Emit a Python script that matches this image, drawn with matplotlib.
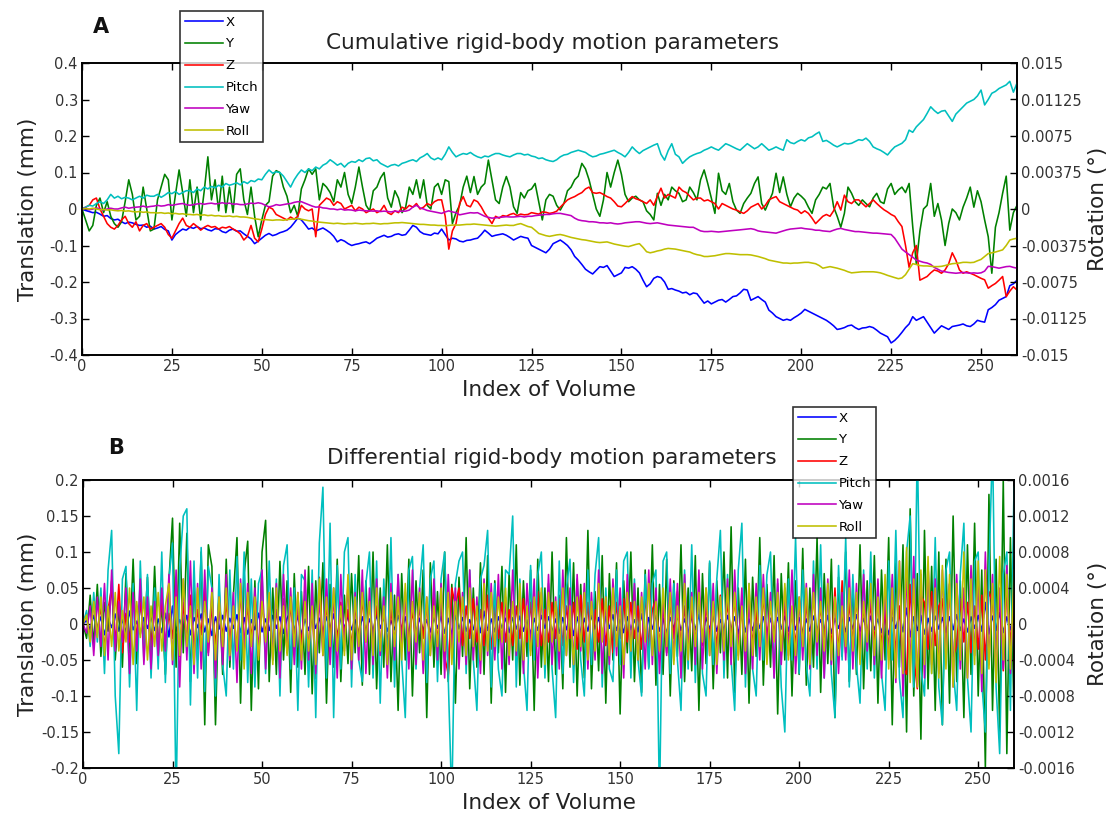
import numpy as np
import matplotlib.pyplot as plt

plt.rcParams['font.family'] = ['DejaVu Sans']

# ---- cumulative motion (translations in 0.001 mm, rotations in 1e-5 deg) ----
cum_x = [0, -4, -7, -10, -9, -14, -20, -18, -26, -30, -28, -35, -40, -36, -38, -42, -45, -44, -50, -47,
         -55, -52, -48, -56, -60, -85, -70, -62, -55, -58, -50, -53, -48, -54, -52, -57, -60, -54, -55, -62,
         -65, -58, -55, -61, -60, -68, -75, -82, -95, -88, -80, -72, -67, -73, -70, -65, -62, -58, -50, -38,
         -25, -30, -42, -55, -52, -60, -56, -52, -58, -65, -75, -90, -84, -88, -95, -100, -97, -95, -92, -90,
         -95, -88, -80, -76, -72, -77, -75, -70, -68, -72, -70, -58, -45, -50, -62, -68, -70, -72, -66, -68,
         -55, -70, -85, -80, -82, -88, -90, -86, -85, -82, -80, -70, -58, -66, -75, -72, -70, -68, -72, -78,
         -85, -80, -75, -78, -80, -100, -105, -110, -115, -120, -110, -95, -90, -85, -92, -100, -112, -130, -140, -152,
         -165, -172, -178, -168, -158, -160, -155, -170, -185, -180, -175, -160, -162, -158, -165, -175, -195, -213, -205, -190,
         -185, -188, -200, -220, -218, -222, -225, -230, -228, -235, -230, -232, -245, -258, -252, -260, -255, -250, -248, -255,
         -248, -240, -238, -230, -220, -222, -250, -245, -240, -248, -255, -277, -285, -295, -300, -305, -302, -305, -298, -292,
         -285, -275, -280, -285, -290, -295, -300, -305, -312, -320, -330, -328, -325, -320, -318, -325, -330, -326, -325, -322,
         -325, -332, -340, -345, -350, -367, -360, -350, -338, -325, -315, -295, -305, -300, -295, -310, -325, -340, -330, -320,
         -325, -330, -322, -320, -318, -315, -320, -322, -315, -305, -308, -310, -276, -270, -262, -250, -245, -240, -210, -205,
         -195]
cum_y = [0, -30, -60, -45, 10, 30, -10, 20, -20, -40, -50, -35, 20, 80, 40, -30, -20, 60, 0, -60,
         -55, 25, 60, 95, 80, -30, 40, 107, 45, -20, 80, -10, 60, -30, 50, 143, 25, 80, -5, 90,
         -10, 60, -10, 95, 110, 25, -15, 60, -20, -76, -30, 10, 20, 90, 105, 100, 60, 35, -10, 10,
         -20, 55, 80, 110, 95, 110, 25, 70, 60, 45, 20, 80, 60, 100, 40, 15, 60, 115, 60, 10,
         -5, 50, 60, 85, 100, 30, 5, 50, 30, -10, 5, 60, 40, 80, 30, 80, 10, 0, 60, 70,
         40, 80, 75, -40, -10, 10, 60, 90, 45, 89, 40, 60, 70, 134, 80, 25, 15, 60, 89, 60,
         6, -12, 45, 30, 50, 55, 70, 20, -30, 25, 40, 35, 10, -3, 15, 50, 60, 80, 90, 125,
         110, 80, 40, 0, -20, 25, 100, 60, 100, 134, 95, 40, 20, 30, 35, 25, 20, -5, -15, -30,
         43, 10, 40, 25, 60, 50, 43, 20, 25, 60, 45, 25, 80, 107, 70, 30, -12, 98, 50, 40,
         70, 20, -3, -12, 15, 30, 43, 70, 88, 15, -3, 20, 43, 98, 45, 88, 40, 6, 30, 43,
         35, 25, 5, -12, 25, 40, 60, 55, 70, 6, -20, -50, -12, 60, 43, 20, 10, 25, 15, 6,
         30, 43, 20, 15, 55, 70, 40, 52, 60, 45, 70, -48, -150, -60, 0, 10, 70, -20, 15, -30,
         -100, -40, 0, -10, -30, 5, 30, 60, 5, 50, 20, -30, -76, -176, -50, -10, 43, 90, -58, -10,
         10]
cum_z = [0, 5, 10, 25, 30, 0, -20, -40, -50, -55, -45, -30, -20, -40, -50, -35, -60, -45, -40, -55,
         -50, -45, -40, -50, -70, -80, -60, -40, -25, -45, -50, -40, -48, -58, -50, -45, -50, -48, -55, -50,
         -52, -48, -55, -60, -68, -85, -75, -45, -80, -90, -55, -15, 5, 0, -15, -20, -25, -30, -22, -28,
         -20, 10, 0, -5, 0, -76, 10, 20, 30, 25, 10, 20, 15, 0, 5, 10, -5, 5, 0, -10,
         -5, 0, -10, -5, 10, -10, -15, -5, -10, 5, 0, 10, 5, 15, 0, 5, 15, 10, 20, 25,
         25, -20, -110, -60, -40, 15, 34, 10, 6, 25, 20, 6, -12, -25, -40, -20, -25, -18, -20, -15,
         -12, -18, -14, -16, -15, -10, -12, -14, -8, -9, -12, -10, -6, 5, 15, 25, 30, 34, 40, 45,
         55, 60, 45, 43, 45, 40, 34, 30, 20, 8, 6, 15, 25, 34, 28, 25, 20, 15, 25, 10,
         35, 57, 30, 40, 35, 30, 60, 50, 45, 35, 25, 30, 30, 22, 25, 20, 15, 0, 15, 10,
         5, 0, -3, -8, -12, -5, 5, 10, 15, 0, 10, 25, 30, 34, 20, 15, 10, 5, 0, -3,
         -12, -5, -12, -25, -40, -30, -20, -15, -20, -5, 20, -3, 38, 20, 15, 25, 25, 15, 6, 15,
         25, 15, 6, -2, -8, -15, -20, -35, -48, -100, -160, -120, -100, -195, -190, -185, -175, -167, -170, -176,
         -167, -150, -120, -140, -167, -176, -172, -176, -180, -185, -190, -194, -217, -210, -204, -195, -185, -240, -225, -213,
         -222]
cum_pitch = [0, 19, 38, 30, 56, 75, 56, 94, 150, 112, 131, 105, 120, 112, 94, 112, 131, 112, 142, 131,
             131, 150, 120, 142, 169, 158, 180, 150, 169, 188, 188, 169, 206, 188, 225, 206, 232, 218, 244, 225,
             262, 244, 255, 270, 248, 281, 262, 292, 281, 308, 300, 356, 401, 368, 382, 375, 338, 281, 225, 300,
             356, 401, 375, 412, 394, 431, 412, 450, 469, 506, 480, 450, 469, 431, 469, 488, 480, 506, 488, 518,
             525, 495, 506, 469, 450, 431, 450, 458, 442, 469, 480, 495, 506, 488, 525, 544, 570, 525, 506, 525,
             506, 562, 638, 581, 536, 555, 570, 562, 581, 555, 536, 525, 544, 536, 555, 570, 570, 555, 544, 536,
             555, 570, 570, 555, 562, 544, 536, 518, 525, 506, 495, 488, 506, 536, 555, 562, 581, 592, 604, 592,
             581, 555, 536, 544, 562, 570, 581, 592, 604, 581, 562, 536, 581, 638, 600, 570, 600, 619, 638, 656,
             671, 562, 502, 600, 671, 562, 536, 469, 506, 536, 555, 570, 581, 604, 619, 638, 619, 604, 638, 671,
             656, 638, 619, 604, 638, 671, 645, 619, 638, 671, 638, 604, 619, 638, 619, 604, 712, 682, 671, 694,
             712, 698, 731, 742, 769, 791, 694, 705, 682, 656, 638, 656, 675, 668, 675, 694, 712, 705, 728, 694,
             638, 619, 604, 581, 555, 600, 638, 656, 675, 712, 810, 788, 844, 881, 919, 982, 1050, 1012, 982, 1005,
             1012, 956, 900, 975, 1012, 1050, 1088, 1106, 1125, 1162, 1222, 1069, 1125, 1189, 1208, 1238, 1256, 1275, 1312, 1200,
             1294]
cum_yaw = [0, 8, -8, 0, 11, 0, -11, 0, 8, 0, 0, 11, 19, 8, 15, 19, 22, 30, 19, 26,
           30, 38, 30, 34, 45, 38, 45, 52, 56, 45, 38, 45, 52, 56, 49, 56, 60, 52, 56, 64,
           56, 60, 49, 52, 45, 45, 52, 60, 56, 64, 56, 38, 22, 30, 45, 38, 45, 52, 56, 68,
           75, 75, 60, 45, 30, 19, 22, 11, 8, 0, 0, -8, 0, -11, -8, -11, -19, -11, -15, -19,
           -19, -22, -19, -26, -22, -26, -30, -22, -26, -22, -22, -11, 19, 38, 11, 0, -15, -22, -30, -38,
           -45, -30, -19, -30, -38, -60, -52, -45, -38, -41, -38, -56, -75, -86, -94, -90, -86, -82, -79, -82,
           -82, -79, -75, -82, -75, -75, -68, -64, -60, -56, -56, -49, -45, -45, -52, -60, -68, -94, -112, -120,
           -124, -131, -131, -135, -142, -142, -146, -142, -150, -154, -150, -142, -139, -135, -131, -131, -139, -146, -150, -146,
           -142, -150, -158, -165, -169, -172, -176, -180, -184, -188, -188, -206, -225, -232, -232, -229, -232, -236, -232, -229,
           -225, -221, -218, -214, -210, -206, -202, -210, -225, -232, -236, -240, -244, -248, -236, -225, -214, -206, -202, -199,
           -195, -202, -206, -210, -218, -218, -225, -229, -232, -218, -206, -199, -210, -218, -225, -232, -232, -236, -240, -244,
           -248, -248, -251, -255, -259, -262, -300, -356, -412, -442, -469, -495, -525, -536, -548, -555, -570, -600, -619, -638,
           -645, -652, -656, -660, -656, -652, -656, -660, -656, -660, -656, -638, -589, -592, -600, -608, -600, -592, -589, -600,
           -608]
cum_roll = [0, 4, 0, 8, 0, -8, -4, -11, -8, -15, -19, -15, -22, -19, -26, -30, -26, -34, -30, -38,
            -38, -41, -38, -45, -41, -49, -45, -52, -49, -56, -56, -60, -56, -64, -60, -68, -64, -71, -68, -75,
            -75, -71, -79, -75, -82, -82, -86, -94, -101, -105, -112, -109, -112, -116, -112, -112, -116, -109, -105, -101,
            -98, -105, -112, -120, -124, -131, -135, -139, -142, -146, -150, -146, -150, -154, -150, -150, -146, -150, -154, -150,
            -150, -146, -150, -154, -150, -150, -146, -142, -142, -139, -142, -146, -150, -154, -158, -158, -161, -165, -165, -169,
            -169, -172, -169, -165, -165, -165, -161, -158, -158, -154, -158, -161, -165, -169, -172, -176, -172, -169, -165, -169,
            -169, -158, -150, -165, -180, -188, -218, -251, -262, -274, -281, -274, -266, -262, -270, -281, -292, -300, -308, -315,
            -319, -326, -334, -341, -345, -341, -338, -349, -360, -368, -375, -382, -386, -375, -364, -356, -394, -439, -450, -442,
            -431, -424, -412, -405, -409, -412, -420, -428, -435, -442, -458, -469, -476, -488, -488, -484, -480, -472, -465, -458,
            -458, -461, -465, -469, -469, -469, -472, -480, -488, -499, -510, -525, -532, -540, -548, -555, -555, -559, -555, -555,
            -551, -548, -548, -555, -562, -581, -608, -600, -592, -600, -608, -619, -630, -645, -656, -652, -649, -645, -645, -645,
            -645, -649, -656, -668, -682, -694, -705, -716, -709, -675, -619, -562, -570, -581, -585, -585, -589, -592, -592, -589,
            -581, -570, -562, -559, -555, -548, -548, -551, -548, -532, -518, -488, -458, -450, -442, -431, -420, -375, -319, -308,
            -300]

# ---- differential motion (same units) ----
dif_x = [0, 5, -8, 12, -6, 10, -15, 8, -5, 14, -10, 6, -12, 18, -8, 4, -14, 9, -6, 11,
         -9, 7, -12, 15, -18, 25, -10, 6, -8, 12, -15, 9, -5, 14, -11, 7, -16, 10, -7, 12,
         -10, 8, -6, 13, -12, 9, -14, 6, -8, 15, -11, 7, -9, 12, -6, 10, -13, 8, 18, -10,
         12, -15, 7, -9, 11, -6, 8, -12, 10, -7, 14, -16, 9, -5, 11, -8, 6, -13, 10, -9,
         7, -11, 13, -6, 9, -10, 5, -8, 12, -7, 10, -14, 20, -12, 8, -9, 6, -11, 9, -6,
         11, -13, 8, -15, 12, -7, 9, -10, 6, -8, 13, -12, 18, -9, 7, -11, 10, -6, 8, -12,
         9, -7, 11, -10, 6, -14, 8, -9, 12, -6, 10, -11, 7, -13, 9, -8, 14, -16, 10, -12,
         8, -10, 12, -7, 9, -15, 11, -6, 13, -9, 7, -12, 10, -8, 6, -11, 14, -18, 9, -7,
         12, -10, 8, -13, 9, -6, 11, -9, 7, -12, 10, -8, 13, -15, 9, -7, 11, -10, 6, -9,
         12, -8, 10, -14, 18, -11, 7, -9, 12, -6, 10, -13, 8, -11, 9, -7, 11, -10, 13, -8,
         9, -12, 7, -10, 11, -8, 6, -9, 12, -13, 8, -6, 10, -11, 9, -7, 13, -10, 8, -9,
         11, -8, 7, -12, 10, -15, 9, -6, 14, -11, 22, -18, 10, -9, 12, -14, 8, -10, 11, -7,
         9, -12, 10, -8, 13, -9, 7, -11, 10, -6, 12, -10, 30, -14, 11, -9, 16, -12, 10, -8,
         12]
dif_y = [0, -20, 40, -30, 55, -45, 30, -10, 60, -50, 25, -60, 70, -40, 90, -55, 40, -30, 65, -50,
         80, -45, 30, -70, 60, 147, -60, 140, -40, 126, -80, 60, -50, 100, -140, 110, 80, -140, 50, -70,
         90, -60, 40, 120, -110, 70, 115, -120, 60, -90, 100, 144, -80, 50, -70, 87, -50, 60, -95, 70,
         -60, 45, -70, 80, -97, 60, -40, 85, -110, 55, -60, 90, -80, 40, -55, 70, -40, 95, -85, 60,
         -70, 100, -90, 50, -60, 110, -80, 40, -120, 70, -50, 90, -100, 60, -40, 75, -130, 85, -60, 45,
         -70, 100, -80, 55, -110, 65, -45, 120, -90, 50, -60, 85, -70, 95, -110, 60, -40, 80, -95, 70,
         -50, 110, -85, 60, -45, 75, -120, 90, -60, 50, -80, 100, -70, 40, -90, 120, -60, 85, -100, 55,
         -75, 130, -90, 45, -65, 95, -110, 70, -50, 85, -125, 60, -40, 100, -80, 50, -95, 75, -60, 110,
         -85, 55, -70, 90, -100, 60, -45, 110, -80, 50, -65, 95, -120, 70, -55, 85, -90, 60, -40, 100,
         -75, 135, -95, 50, -70, 90, -110, 65, -45, 120, -85, 55, -60, 95, -125, 70, -50, 85, -100, 60,
         -70, 105, -85, 50, -60, 120, -95, 70, -55, 90, -130, 65, -45, 100, -80, 55, -70, 110, -90, 60,
         -65, 95, -110, 75, -50, 120, -140, 85, -60, 110, -150, 160, -100, 70, -160, 130, -90, 80, -120, 100,
         -140, 90, -110, 150, -80, 60, -130, 110, -70, 140, -100, 75, -200, 180, -120, 90, -150, 200, -180, 120,
         -130]
dif_z = [0, 15, -20, 30, -10, 25, -35, 20, 50, -30, 55, -40, 15, -25, 40, -20, 30, -15, 25, -30,
         20, -25, 35, -30, 15, -20, 60, -45, 30, -25, 40, -35, 20, -15, 50, -40, 25, -30, 35, -20,
         30, -25, 20, -35, 45, -30, 25, -20, 40, -45, 30, -15, 25, -30, 20, -25, 35, -40, 30, -20,
         25, -30, 40, -35, 20, -76, 65, -30, 25, -20, 35, -25, 30, -15, 20, -30, 25, -20, 35, -25,
         30, -20, 25, -35, 40, -30, 20, -25, 30, -15, 35, -25, 20, -30, 25, -20, 30, -35, 40, -25,
         30, -45, -70, 50, 25, 50, -30, 25, -20, 35, -25, 20, -30, 40, -35, 25, -20, 30, -25, 20,
         -30, 25, -20, 35, -25, 30, -40, 45, -30, 20, -25, 30, -20, 35, -30, 25, -20, 30, -35, 40,
         -25, 30, -45, 20, -25, 35, -30, 25, -40, 30, -20, 35, -25, 30, -20, 25, -35, 40, -30, 20,
         35, -30, 25, -40, 30, -20, 45, -35, 25, -30, 20, -25, 35, -30, 25, -20, 30, -35, 40, -25,
         30, -20, 35, -30, 25, -40, 45, -30, 20, -35, 40, -25, 30, -20, 35, -45, 30, -25, 20, -30,
         35, -25, 30, -40, 45, -30, 25, -20, 40, -35, 50, -45, 60, -40, 30, -25, 35, -30, 25, -35,
         30, -25, 40, -30, 20, -35, 30, -40, 25, -60, -70, 55, -45, -90, 40, 30, -35, 45, -30, 25,
         35, -40, 55, -45, -30, 35, -25, 30, -40, 25, -35, 40, -50, 45, 30, -35, 40, -65, 55, -30,
         40]
dif_pitch = [0, 15, -25, 35, -20, 40, -55, 60, 104, -80, -144, 50, 64, -70, 45, -96, 70, -40, 55, -60,
             40, -50, 80, -65, 50, 90, -200, 60, 120, 128, -90, 70, -60, 85, -75, 64, 40, -80, 55, -45,
             -80, 60, -50, 75, -40, 80, -65, 50, -70, 45, 60, -55, 70, -40, 50, -80, 65, 88, -50, 40,
             -96, 55, 48, -70, 60, -104, 90, 152, -60, 112, -104, 65, -50, 80, 96, -70, 55, -40, -64, 45,
             80, -60, 70, -88, 50, -45, 96, -70, 55, -40, -104, 60, 75, -50, 40, 88, -65, 50, 70, -64,
             50, 80, -60, -200, 45, 70, 80, -55, 60, -40, -96, 50, 65, 104, -70, 45, -50, -80, 60, 55,
             120, -70, 50, -45, -96, 65, -40, 55, 80, -60, 45, -50, -104, 70, -55, 40, 72, -65, 50, -40,
             -80, 60, -45, 55, 96, -70, 40, -50, -64, 60, -45, 70, 80, -60, 50, -40, -80, 55, -50, 45,
             60, -200, 70, 80, -55, 45, -40, -96, 60, -50, 88, -65, 40, -55, -80, 70, -45, 50, 104, -60,
             55, -40, -96, 60, 112, -70, 45, -50, -80, 65, -40, 55, 80, -60, 45, -70, -120, 50, -40, 96,
             -55, 60, -45, -80, 70, -50, 88, -60, 45, -55, -104, 65, -40, 96, -70, 55, -45, -88, 60, -50,
             80, -60, 45, -55, -96, 70, -40, 104, -60, -104, 80, 120, -70, 200, -50, -80, 65, -55, 96, -70,
             -112, 60, 80, -50, -96, 55, 112, -60, -120, 70, 80, -65, -120, 60, 200, -70, -144, 55, 80, -96,
             152]
dif_yaw = [0, -10, 20, -35, 30, -25, 45, -40, 60, -30, 25, -20, 40, -55, 35, -30, 50, -45, 30, -50,
           25, -35, 40, -30, 55, -45, 60, -70, 50, -40, 70, -55, 45, -50, 60, -35, 40, -60, 30, -45,
           55, -40, 35, -65, 50, -30, 45, -55, 40, -35, 60, -50, 30, -40, 45, -60, 55, -30, 40, -45,
           35, -50, 60, -40, 45, -55, 30, -35, 50, -45, 40, -60, 55, -30, 45, -50, 35, -40, 60, -55,
           40, -45, 50, -35, 30, -60, 45, -40, 55, -30, 35, -50, 60, -45, 40, -55, 30, -35, 50, -40,
           45, -60, 55, -30, 40, -50, 35, -45, 60, -40, 30, -55, 50, -35, 45, -40, 55, -50, 30, -45,
           60, -35, 40, -55, 45, -30, 50, -60, 35, -40, 55, -45, 30, -50, 60, -35, 40, -45, 55, -30,
           45, -50, 35, -40, 60, -55, 30, -45, 50, -35, 40, -60, 55, -30, 45, -40, 35, -50, 60, -45,
           40, -55, 30, -35, 50, -40, 45, -60, 55, -30, 35, -45, 60, -50, 40, -35, 45, -55, 30, -40,
           50, -45, 60, -35, 40, -55, 30, -50, 45, -40, 55, -30, 35, -60, 50, -45, 40, -35, 60, -55,
           30, -40, 45, -50, 55, -35, 40, -60, 50, -45, 30, -55, 35, -40, 60, -50, 45, -35, 55, -30,
           40, -45, 50, -60, 35, -40, 55, -65, 70, -80, 60, -50, 75, -70, 55, -60, 65, -45, 50, -55,
           60, -40, 45, -70, 55, -50, 40, -60, 65, -35, 50, -75, 80, -45, 55, -60, 40, -50, 65, -55,
           45]
dif_roll = [0, 10, -20, 25, -15, 30, -35, 20, -25, 35, -30, 15, -20, 40, -45, 25, -15, 30, -40, 20,
            -25, 35, -30, 20, 45, -40, 30, -35, 50, -25, 20, -45, 40, -30, 25, -20, 35, -40, 30, -25,
            40, -35, 20, -30, 45, -50, 35, -25, 30, -40, 25, -20, 35, -45, 40, -30, 20, -35, 30, -25,
            35, -40, 25, -30, 20, -45, 50, -35, 30, -25, 40, -30, 20, -35, 55, -40, 30, -25, 35, -20,
            25, -35, 40, -30, 20, -45, 35, -25, 30, -40, 45, -30, 25, -20, 35, -40, 30, -35, 20, -25,
            40, -30, 35, -45, 25, -20, 30, -35, 40, -25, 20, -40, 45, -30, 35, -25, 30, -20, 40, -35,
            25, -30, 45, -40, 20, -35, 30, -25, 40, -45, 35, -20, 25, -30, 40, -35, 20, -45, 30, -25,
            35, -40, 25, -30, 45, -20, 30, -35, 40, -25, 20, -45, 35, -30, 25, -40, 30, -20, 45, -35,
            25, -30, 40, -25, 35, -45, 20, -30, 45, -40, 30, -25, 35, -20, 40, -35, 25, -45, 30, -30,
            40, -25, 35, -40, 20, -30, 45, -35, 30, -25, 40, -45, 25, -20, 35, -30, 45, -40, 20, -35,
            30, -25, 40, -45, 35, -20, 25, -30, 45, -40, 30, -35, 20, -25, 40, -30, 35, -45, 25, -20,
            45, -35, 30, -40, 55, -50, 40, -60, 70, -55, 85, -65, 50, -70, 60, -45, 75, -55, 40, -60,
            65, -50, 55, -70, 45, -40, 80, -60, 50, -45, 70, -55, 60, -50, 45, -65, 75, -40, 55, -50,
            60]

names = ['X', 'Y', 'Z', 'Pitch', 'Yaw', 'Roll']
colors = ['#0000ff', '#008000', '#ff0000', '#00bfbf', '#bf00bf', '#bfbf00']

MM = 1e-3     # translation counts -> mm
DEG = 1e-5    # rotation counts -> degrees

panels = [
    dict(trans=[cum_x, cum_y, cum_z], rot=[cum_pitch, cum_yaw, cum_roll],
         ylim=0.4, yticks=[-0.4, -0.3, -0.2, -0.1, 0, 0.1, 0.2, 0.3, 0.4],
         ylabels=['-0.4', '-0.3', '-0.2', '-0.1', '0', '0.1', '0.2', '0.3', '0.4'],
         rlim=0.015, rticks=[-0.015, -0.01125, -0.0075, -0.00375, 0, 0.00375, 0.0075, 0.01125, 0.015],
         rlabels=['-0.015', '-0.01125', '-0.0075', '-0.00375', '0', '0.00375', '0.0075', '0.01125', '0.015'],
         rect=[82 / 1118, 1 - 355 / 817, 935 / 1118, 292 / 817],
         title='Cumulative rigid-body motion parameters', title_y=1 - 43 / 817,
         tag='A', tag_xy=(101 / 1118, 1 - 27 / 817), xlab_y=1 - 390 / 817,
         leg_xy=(180 / 1118, 1 - 11 / 817)),
    dict(trans=[dif_x, dif_y, dif_z], rot=[dif_pitch, dif_yaw, dif_roll],
         ylim=0.2, yticks=[-0.2, -0.15, -0.1, -0.05, 0, 0.05, 0.1, 0.15, 0.2],
         ylabels=['-0.2', '-0.15', '-0.1', '-0.05', '0', '0.05', '0.1', '0.15', '0.2'],
         rlim=0.0016, rticks=[-0.0016, -0.0012, -0.0008, -0.0004, 0, 0.0004, 0.0008, 0.0012, 0.0016],
         rlabels=['-0.0016', '-0.0012', '-0.0008', '-0.0004', '0', '0.0004', '0.0008', '0.0012', '0.0016'],
         rect=[83 / 1118, 1 - 768 / 817, 931 / 1118, 288 / 817],
         title='Differential rigid-body motion parameters', title_y=1 - 458 / 817,
         tag='B', tag_xy=(116 / 1118, 1 - 448 / 817), xlab_y=1 - 803 / 817,
         leg_xy=(793 / 1118, 1 - 407 / 817)),
]

fig = plt.figure(figsize=(11.18, 8.17), dpi=100)
tick_col = '#333333'
text_col = '#222222'

for p in panels:
    ax = fig.add_axes(p['rect'])
    ax2 = ax.twinx()
    handles = []
    for vals, c in zip(p['trans'], colors[:3]):
        v = np.array(vals) * MM
        h, = ax.plot(np.arange(len(v)), v, color=c, lw=1.15)
        handles.append(h)
    for vals, c in zip(p['rot'], colors[3:]):
        v = np.array(vals) * DEG
        h, = ax2.plot(np.arange(len(v)), v, color=c, lw=1.15)
        handles.append(h)

    ax.set_xlim(0, 260)
    ax.set_ylim(-p['ylim'], p['ylim'])
    ax2.set_ylim(-p['rlim'], p['rlim'])
    ax.set_xticks(np.arange(0, 251, 25))
    ax.set_yticks(p['yticks'])
    ax.set_yticklabels(p['ylabels'])
    ax2.set_yticks(p['rticks'])
    ax2.set_yticklabels(p['rlabels'])
    ax.tick_params(direction='in', length=5, width=1, labelsize=10.5, colors='black',
                   labelcolor=tick_col, top=True, pad=3)
    ax2.tick_params(direction='in', length=5, width=1, labelsize=10.5, colors='black',
                    labelcolor=tick_col, pad=3)
    for a in (ax, ax2):
        for s in a.spines.values():
            s.set_linewidth(1.2)

    fig.text(0.494, p['title_y'], p['title'], ha='center', va='center', fontsize=15.5,
             color=text_col)
    fig.text(p['tag_xy'][0], p['tag_xy'][1], p['tag'], ha='center', va='center',
             fontsize=15, fontweight='bold', color='#111111')
    fig.text(0.491, p['xlab_y'], 'Index of Volume', ha='center', va='center', fontsize=15.5,
             color=text_col)
    fig.text(28 / 1118, p['rect'][1] + p['rect'][3] / 2, 'Translation (mm)', rotation=90,
             ha='center', va='center', fontsize=15.5, color=text_col)
    fig.text(1098 / 1118, p['rect'][1] + p['rect'][3] / 2, 'Rotation (°)', rotation=90,
             ha='center', va='center', fontsize=15.5, color=text_col)

    leg = fig.legend(handles, names, loc='upper left', bbox_to_anchor=p['leg_xy'],
                     fontsize=9.5, frameon=True, fancybox=False, handlelength=2.9,
                     handletextpad=0.2, borderpad=0.35, labelspacing=0.67, borderaxespad=0)
    leg.get_frame().set_edgecolor('black')
    leg.get_frame().set_linewidth(1.2)

fig.savefig('out.png', dpi=100)
